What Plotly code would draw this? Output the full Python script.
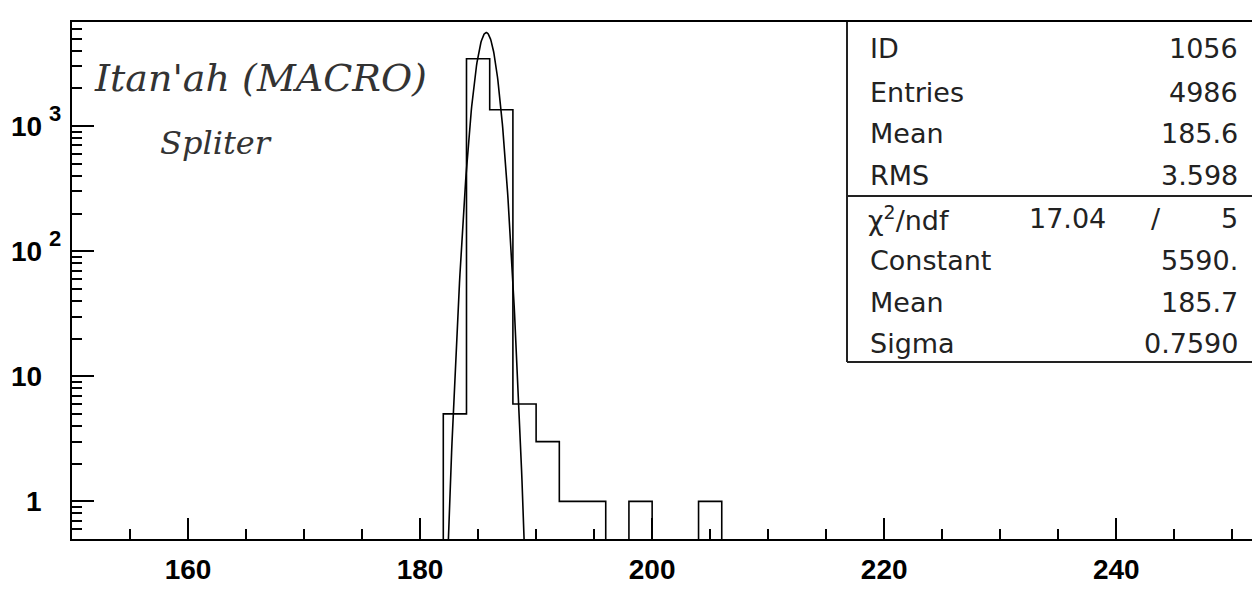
import math
import plotly.graph_objects as go

# ---------------- data ----------------
bin_low_edges = [182, 184, 186, 188, 190, 192, 194, 196, 198, 200, 202, 204]
bin_width = 2
bin_counts = [5, 3450, 1350, 6, 3, 1, 1, 0, 1, 0, 0, 1]

fit_constant = 5590.0
fit_mean = 185.7
fit_sigma = 0.7590
fit_xmin, fit_xmax = 182.0, 189.5

x_major_ticks = [160, 180, 200, 220, 240]
y_major_ticks = [1, 10, 100, 1000]
y_major_labels = [("1", ""), ("10", ""), ("10", "2"), ("10", "3")]

stats_rows_top = [("ID", "1056"), ("Entries", "4986"), ("Mean", "185.6"), ("RMS", "3.598")]
chi2_value, ndf_value = "17.04", "5"
stats_rows_fit = [("Constant", "5590."), ("Mean", "185.7"), ("Sigma", "0.7590")]

hand_line1 = "Itan'ah (MACRO)"
hand_line2 = "Spliter"

# ---------------- geometry ----------------
W, H = 1252, 590
L, R, T, B = 72, 0, 22, 51
XR = [150, 251.7]
YR = [math.log10(0.5), 3.832]
PW, PH = W - L - R, H - T - B


def px(xp):
    return (xp - L) / PW


def py(yp):
    return (H - B - yp) / PH


# histogram outline (step)
xs, ys = [], []
floor = 1e-3
for lo, c in zip(bin_low_edges, bin_counts):
    v = c if c > 0 else floor
    xs += [lo, lo + bin_width]
    ys += [v, v]
xs = [bin_low_edges[0]] + xs + [bin_low_edges[-1] + bin_width]
ys = [floor] + ys + [floor]

# gaussian fit curve from the fit parameters
n = 200
gx = [fit_xmin + (fit_xmax - fit_xmin) * i / (n - 1) for i in range(n)]
gy = [max(fit_constant * math.exp(-0.5 * ((x - fit_mean) / fit_sigma) ** 2), floor) for x in gx]

fig = go.Figure()
fig.add_trace(go.Scatter(x=xs, y=ys, mode="lines", line=dict(color="black", width=1.6), hoverinfo="skip"))
fig.add_trace(go.Scatter(x=gx, y=gy, mode="lines", line=dict(color="black", width=1.6), hoverinfo="skip"))

# minor tick values
x_minor = [v for v in range(150, 255, 5) if v not in x_major_ticks]
y_minor = []
for d in [0.1, 1, 10, 100, 1000]:
    for k in range(2, 10):
        v = k * d
        if 0.5 <= v <= 10 ** YR[1]:
            y_minor.append(v)

fig.update_layout(
    width=W, height=H,
    margin=dict(l=L, r=R, t=T, b=B),
    paper_bgcolor="white", plot_bgcolor="white",
    showlegend=False,
    xaxis=dict(
        range=XR, showgrid=False, zeroline=False,
        showline=True, linecolor="black", linewidth=2, mirror=True,
        tickvals=x_major_ticks, ticks="inside", ticklen=21, tickwidth=1.5, tickcolor="black",
        minor=dict(tickvals=x_minor, ticks="inside", ticklen=10, tickwidth=1.5, tickcolor="black"),
        tickfont=dict(family="Liberation Sans", size=28, color="black", weight="bold"),
        ticklabelstandoff=4,
    ),
    yaxis=dict(
        type="log", range=YR, showgrid=False, zeroline=False,
        showline=True, linecolor="black", linewidth=2, mirror=False,
        tickvals=y_major_ticks, ticks="inside", ticklen=22, tickwidth=1.5, tickcolor="black",
        minor=dict(tickvals=y_minor, ticks="inside", ticklen=10, tickwidth=1.5, tickcolor="black"),
        showticklabels=False,
    ),
)

ann = []
# y tick labels ROOT style
for v, (base, exp) in zip(y_major_ticks, y_major_labels):
    ann.append(dict(x=px(44), y=math.log10(v), xref="paper", yref="y", text=base,
                    xanchor="right", yanchor="middle", showarrow=False,
                    font=dict(family="Liberation Sans", size=28, color="black", weight="bold")))
    if exp:
        ann.append(dict(x=px(47), y=math.log10(v), xref="paper", yref="y", text=exp,
                        xanchor="left", yanchor="bottom", showarrow=False, yshift=-2,
                        font=dict(family="Liberation Sans", size=22, color="black", weight="bold")))

# stats box
sfont = dict(family="DejaVu Sans", size=27, color="#222")
row_y_top = [48, 92, 134, 175]
row_y_fit = [260, 302, 343]
for (lab, val), yy in zip(stats_rows_top, row_y_top):
    ann.append(dict(x=px(868), y=py(yy), xref="paper", yref="paper", text=lab, xanchor="left",
                    yanchor="middle", showarrow=False, font=sfont))
    ann.append(dict(x=px(1240), y=py(yy), xref="paper", yref="paper", text=val, xanchor="right",
                    yanchor="middle", showarrow=False, font=sfont))
ann.append(dict(x=px(866), y=py(219), xref="paper", yref="paper", text="χ<sup>2</sup>/ndf",
                xanchor="left", yanchor="middle", showarrow=False, font=sfont))
ann.append(dict(x=px(1108), y=py(219), xref="paper", yref="paper", text=chi2_value,
                xanchor="right", yanchor="middle", showarrow=False, font=sfont))
ann.append(dict(x=px(1156), y=py(219), xref="paper", yref="paper", text="/",
                xanchor="center", yanchor="middle", showarrow=False, font=sfont))
ann.append(dict(x=px(1240), y=py(219), xref="paper", yref="paper", text=ndf_value,
                xanchor="right", yanchor="middle", showarrow=False, font=sfont))
for (lab, val), yy in zip(stats_rows_fit, row_y_fit):
    ann.append(dict(x=px(868), y=py(yy), xref="paper", yref="paper", text=lab, xanchor="left",
                    yanchor="middle", showarrow=False, font=sfont))
    ann.append(dict(x=px(1240), y=py(yy), xref="paper", yref="paper", text=val, xanchor="right",
                    yanchor="middle", showarrow=False, font=sfont))

# handwritten notes
ann.append(dict(x=px(92), y=py(78), xref="paper", yref="paper", text=hand_line1, xanchor="left",
                yanchor="middle", showarrow=False,
                font=dict(family="DejaVu Serif", size=38, color="#333", style="italic")))
ann.append(dict(x=px(158), y=py(143), xref="paper", yref="paper", text=hand_line2, xanchor="left",
                yanchor="middle", showarrow=False,
                font=dict(family="DejaVu Serif", size=32, color="#333", style="italic")))
fig.update_layout(annotations=ann)

# stats box frame
line = dict(color="#222", width=2)
fig.add_shape(type="line", xref="paper", yref="paper", x0=px(847), x1=px(847), y0=py(22), y1=py(362), line=line)
fig.add_shape(type="line", xref="paper", yref="paper", x0=px(847), x1=px(1260), y0=py(362), y1=py(362), line=line)
fig.add_shape(type="line", xref="paper", yref="paper", x0=px(847), x1=px(1260), y0=py(196), y1=py(196), line=line)

fig.write_html("out.html", config={"displayModeBar": False},
               post_script="document.body.style.margin='0';document.body.style.overflow='hidden';")
